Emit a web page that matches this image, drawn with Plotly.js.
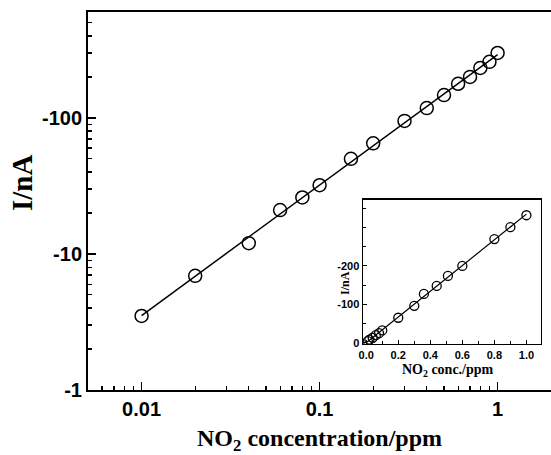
<!DOCTYPE html>
<html>
<head>
<meta charset="utf-8">
<script src="https://cdn.plot.ly/plotly-3.0.1.min.js"></script>
<style>html,body{margin:0;padding:0;background:#fff;}#chart{width:551px;height:455px;}</style>
</head>
<body>
<div id="chart"></div>
<script>
// Main plot (log-log), |I| in nA vs NO2 concentration in ppm
const mainConc = [0.01, 0.02, 0.04, 0.06, 0.08, 0.1, 0.15, 0.2, 0.3, 0.4, 0.5, 0.6, 0.7, 0.8, 0.9, 1.0];
const mainCurrent = [3.5, 6.9, 12, 21, 26, 32, 50, 65, 95, 118, 147, 178, 200, 233, 258, 300];

// Inset (linear)
const insetConc = [0.01, 0.02, 0.04, 0.06, 0.08, 0.1, 0.2, 0.3, 0.36, 0.44, 0.51, 0.6, 0.8, 0.9, 1.0];
const insetCurrent = [4, 8, 13, 20, 25, 32, 65, 96, 127, 148, 174, 200, 270, 301, 332];

const mainYTickVals = [1, 10, 100];
const mainYTickText = ['-1', '-10', '-100'];
const insetYTickVals = [0, 100, 200];
const insetYTickText = ['0', '-100', '-200'];
const insetXTickVals = [0, 0.2, 0.4, 0.6, 0.8, 1.0];
const insetXTickText = ['0.0', '0.2', '0.4', '0.6', '0.8', '1.0'];

// Fits
function linFit(xs, ys) {
  const n = xs.length;
  let sx = 0, sy = 0, sxx = 0, sxy = 0;
  for (let i = 0; i < n; i++) { sx += xs[i]; sy += ys[i]; sxx += xs[i]*xs[i]; sxy += xs[i]*ys[i]; }
  const b = (n*sxy - sx*sy) / (n*sxx - sx*sx);
  const a = (sy - b*sx) / n;
  return [a, b];
}
const lx = mainConc.map(Math.log10), ly = mainCurrent.map(Math.log10);
const [la, lb] = linFit(lx, ly);
const mainFitX = [mainConc[0], mainConc[mainConc.length-1]];
const mainFitY = mainFitX.map(x => Math.pow(10, la + lb*Math.log10(x)));
const [ia, ib] = linFit(insetConc, insetCurrent);
const insetFitX = [0, 1.0];
const insetFitY = insetFitX.map(x => ia + ib*x);

const sans = 'Liberation Sans, Arial, sans-serif';
const serif = 'Liberation Serif, Times New Roman, serif';

const traces = [
  {x: mainFitX, y: mainFitY, mode: 'lines', line: {color: 'black', width: 1.5}, xaxis: 'x', yaxis: 'y', hoverinfo: 'skip'},
  {x: mainConc, y: mainCurrent, mode: 'markers', marker: {symbol: 'circle-open', size: 13, color: 'black', line: {width: 1.5, color: 'black'}}, xaxis: 'x', yaxis: 'y'},
  {x: insetFitX, y: insetFitY, mode: 'lines', line: {color: 'black', width: 1.2}, xaxis: 'x2', yaxis: 'y2', hoverinfo: 'skip'},
  {x: insetConc, y: insetCurrent, mode: 'markers', marker: {symbol: 'circle-open', size: 9, color: 'black', line: {width: 1.3, color: 'black'}}, xaxis: 'x2', yaxis: 'y2'}
];

const layout = {
  width: 551, height: 455,
  margin: {l: 88, r: 0, t: 12, b: 65},
  paper_bgcolor: 'white', plot_bgcolor: 'white',
  showlegend: false,
  xaxis: {
    type: 'log', range: [Math.log10(0.005), 0.3],
    domain: [0, 1],
    showline: true, linecolor: 'black', linewidth: 2, mirror: true,
    showgrid: false, zeroline: false,
    tickmode: 'linear', tick0: 0, dtick: 1,
    ticks: 'inside', ticklen: 8, tickwidth: 1.5, tickcolor: 'black',
    minor: {dtick: 'D1', ticks: 'inside', ticklen: 4, tickwidth: 1.2, tickcolor: 'black', showgrid: false},
    tickfont: {family: sans, size: 20, color: 'black', weight: 'bold'}
  },
  yaxis: {
    type: 'log', range: [0, Math.log10(600)],
    domain: [0, 1],
    showline: true, linecolor: 'black', linewidth: 2, mirror: false,
    showgrid: false, zeroline: false,
    tickmode: 'array', tickvals: mainYTickVals, ticktext: mainYTickText,
    ticks: 'inside', ticklen: 8, tickwidth: 1.5, tickcolor: 'black',
    minor: {dtick: 'D1', ticks: 'inside', ticklen: 4, tickwidth: 1.2, tickcolor: 'black', showgrid: false},
    tickfont: {family: sans, size: 20, color: 'black', weight: 'bold'}
  },
  xaxis2: {
    anchor: 'y2', domain: [0.594, 0.978], range: [-0.02, 1.09],
    showline: true, linecolor: 'black', linewidth: 1.5, mirror: true,
    showgrid: false, zeroline: false,
    tickmode: 'array', tickvals: insetXTickVals, ticktext: insetXTickText,
    ticks: 'inside', ticklen: 4, tickwidth: 1, tickcolor: 'black',
    minor: {dtick: 0.1, tick0: 0, ticks: 'inside', ticklen: 3, tickwidth: 1, tickcolor: 'black', showgrid: false},
    tickfont: {family: sans, size: 11, color: 'black', weight: 'bold'}
  },
  yaxis2: {
    anchor: 'x2', domain: [0.122, 0.503], range: [-3, 372],
    showline: true, linecolor: 'black', linewidth: 1.5, mirror: true,
    showgrid: false, zeroline: false,
    tickmode: 'array', tickvals: insetYTickVals, ticktext: insetYTickText,
    ticks: 'inside', ticklen: 4, tickwidth: 1, tickcolor: 'black',
    minor: {dtick: 50, tick0: 0, ticks: 'inside', ticklen: 3, tickwidth: 1, tickcolor: 'black', showgrid: false},
    tickfont: {family: sans, size: 11, color: 'black', weight: 'bold'}
  },
  annotations: [
    {text: 'NO<sub>2</sub> concentration/ppm', xref: 'paper', yref: 'paper', x: 0.5, y: -0.133, xanchor: 'center', yanchor: 'middle', showarrow: false,
     font: {family: serif, size: 24, color: 'black', weight: 'bold'}},
    {text: 'I/nA', xref: 'paper', yref: 'paper', x: -0.1425, y: 0.5476, xanchor: 'center', yanchor: 'middle', textangle: -90, showarrow: false,
     font: {family: serif, size: 29, color: 'black', weight: 'bold'}},
    {text: 'NO<sub>2</sub> conc./ppm', xref: 'paper', yref: 'paper', x: 0.7775, y: 0.0529, xanchor: 'center', yanchor: 'middle', showarrow: false,
     font: {family: serif, size: 14, color: 'black', weight: 'bold'}},
    {text: 'I/nA', xref: 'paper', yref: 'paper', x: 0.555, y: 0.283, xanchor: 'center', yanchor: 'middle', textangle: -90, showarrow: false,
     font: {family: serif, size: 12, color: 'black', weight: 'bold'}}
  ]
};

Plotly.newPlot('chart', traces, layout, {displayModeBar: false, staticPlot: true});
</script>
</body>
</html>
